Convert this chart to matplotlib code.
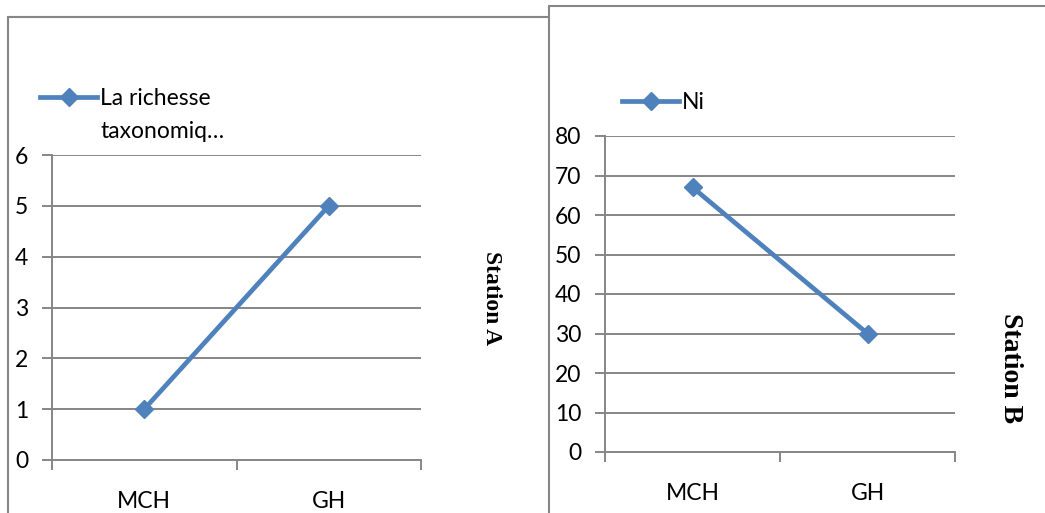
import matplotlib.pyplot as plt
from matplotlib.patches import Rectangle
import numpy as np

# données
categories = ['MCH', 'GH']
richesse = [1, 5]
ni = [67, 30]

label_a = 'La richesse\ntaxonomiq…'
label_b = 'Ni'

bleu = '#4F81BD'
gris = '#868686'

plt.rcParams['font.family'] = ['Lato', 'DejaVu Sans']

fig = plt.figure(figsize=(10.45, 5.13), dpi=100)

# cadres des deux graphiques (coordonnées pixels -> fraction)
W, H = 1045, 513
fig.patches.append(Rectangle((8 / W, -0.1), 560 / W, 1.1 - 17 / H,
                             transform=fig.transFigure, fill=False,
                             edgecolor=gris, linewidth=1.5, zorder=0))
fig.patches.append(Rectangle((549 / W, -0.1), 600 / W, 1.1 - 6 / H,
                             transform=fig.transFigure, facecolor='white',
                             edgecolor=gris, linewidth=1.5, zorder=1))


def tracer(ax, valeurs, yticks, label, leg_pos, decalage=0):
    x = list(range(len(categories)))
    ax.plot(x, valeurs, '-', color=bleu, linewidth=3.4, marker='D',
            markersize=9.5, label=label, zorder=3)
    ax.set_xlim(-0.5, len(categories) - 0.5)
    ax.set_ylim(yticks[0], yticks[-1])
    ax.set_yticks(yticks)
    ax.yaxis.grid(True, color=gris, linewidth=1.4)
    ax.set_axisbelow(True)
    ax.set_xticks([-0.5, 0.5, 1.5])
    ax.set_xticklabels([])
    ax.set_xticks(x, minor=True)
    ax.set_xticklabels(categories, minor=True)
    ax.tick_params(axis='x', which='major', length=7, width=1.4, color=gris)
    ax.tick_params(axis='x', which='minor', length=0, pad=22, labelsize=16.5)
    ax.tick_params(axis='y', length=7, width=1.4, color=gris, pad=10,
                   labelsize=16.5)
    for s in ['top', 'right']:
        ax.spines[s].set_visible(False)
    for s in ['left', 'bottom']:
        ax.spines[s].set_color(gris)
        ax.spines[s].set_linewidth(1.4)
    ax.patch.set_alpha(0)
    leg = ax.legend(loc='upper left', bbox_to_anchor=leg_pos,
                    bbox_transform=fig.transFigure, frameon=False,
                    handlelength=2.5, handletextpad=0.13, borderpad=0,
                    borderaxespad=0, fontsize=16.5)
    for t in leg.get_texts():
        t.set_linespacing(1.7)
    # le symbole reste sur la première ligne du libellé
    if decalage:
        h = leg.legend_handles[0]
        h.set_ydata(np.asarray(h.get_ydata()) + decalage)


ax1 = fig.add_axes([52 / W, 1 - 460 / H, 369 / W, 305 / H], zorder=2)
tracer(ax1, richesse, [0, 1, 2, 3, 4, 5, 6], label_a, (40 / W, 1 - 88 / H),
       decalage=13.3)

ax2 = fig.add_axes([605 / W, 1 - 452 / H, 350 / W, 316 / H], zorder=3)
tracer(ax2, ni, [0, 10, 20, 30, 40, 50, 60, 70, 80], label_b,
       (622 / W, 1 - 92 / H))

fig.text(492 / W, 1 - 298 / H, 'Station A', rotation=-90, ha='center',
         va='center', fontsize=17, fontweight='bold',
         family=['Liberation Serif', 'DejaVu Serif'], zorder=2)
fig.text(1010 / W, 1 - 368 / H, 'Station B', rotation=-90, ha='center',
         va='center', fontsize=20, fontweight='bold',
         family=['Liberation Serif', 'DejaVu Serif'], zorder=3)

plt.savefig('out.png', dpi=100)
